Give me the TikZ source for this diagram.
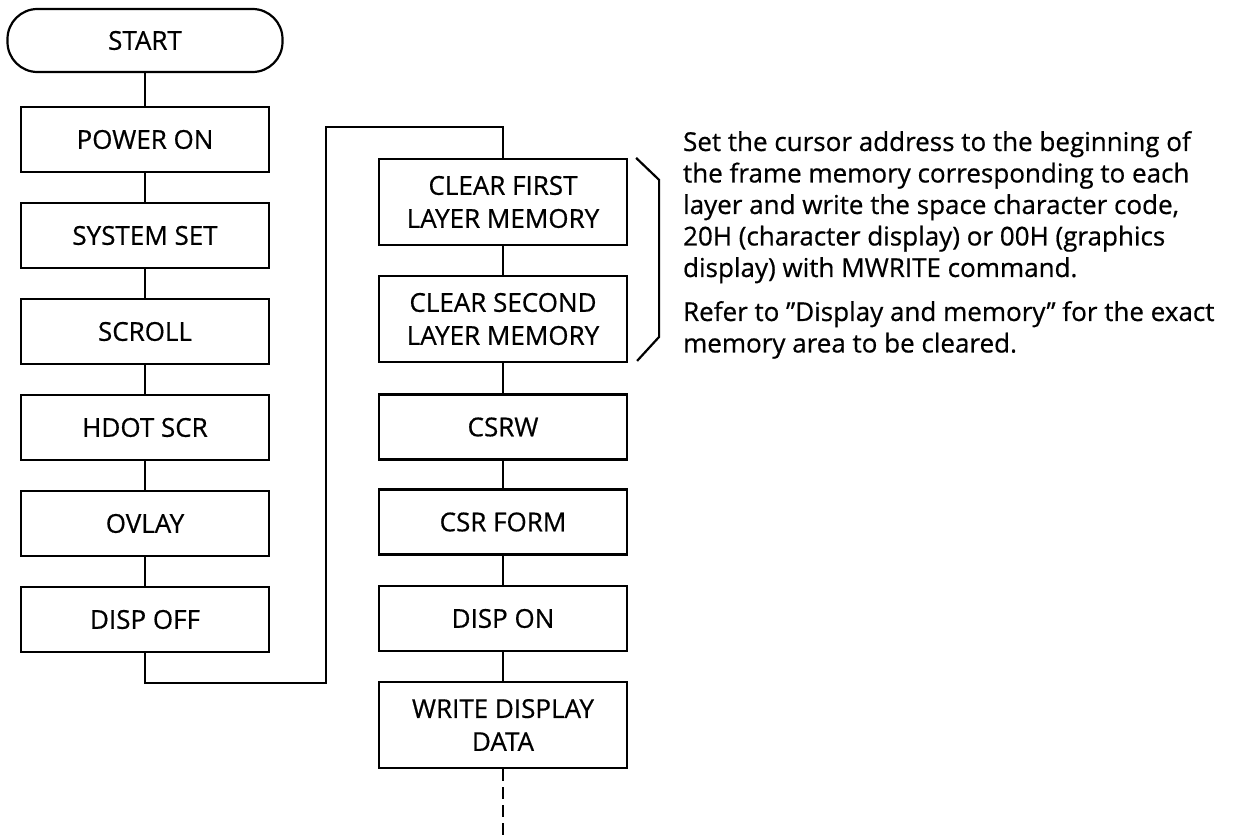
\documentclass[tikz,border=0pt]{standalone}
\usepackage{fontspec}
\setmainfont{Open Sans}[FakeBold=0.6]
\newcommand\flowfont{\fontsize{13}{16.5}\selectfont}
\newcommand\notefont{\fontsize{13}{15.75}\selectfont}
\begin{document}
\begin{tikzpicture}[x=0.5pt,y=-0.5pt,line width=1.1pt,
	stepbox/.style={draw, minimum width=124pt, minimum height=32.5pt, inner sep=0pt, align=center, font=\flowfont},
	tallbox/.style={stepbox, minimum height=43pt},
	termbox/.style={stepbox, minimum width=137.5pt, minimum height=31.5pt, rounded corners=15pt},
	note/.style={anchor=north west, inner sep=0pt, align=left, font=\notefont}]
	\useasboundingbox (0,0) rectangle (1243,835);
	\node[termbox] (start) at (145,40.5) {START};
	% left column
	\foreach \n/\t [count=\k from 0] in {pwr/POWER ON, sys/SYSTEM SET, scr/SCROLL, hdot/HDOT SCR, ovl/OVLAY, doff/DISP OFF}{
		\node[stepbox] (\n) at (145,139.5+96*\k) {\t};
	}
	% right column
	\node[tallbox] (clr1) at (503,202) {CLEAR FIRST\\LAYER MEMORY};
	\node[tallbox] (clr2) at (503,319) {CLEAR SECOND\\LAYER MEMORY};
	\foreach \n/\t/\y in {csrw/CSRW/427, csrf/CSR FORM/522, don/DISP ON/618.5}{
		\node[stepbox] (\n) at (503,\y) {\t};
	}
	\node[tallbox] (wdd) at (503,725) {WRITE DISPLAY\\DATA};
	\foreach \a/\b in {start/pwr, pwr/sys, sys/scr, scr/hdot, hdot/ovl, ovl/doff, clr1/clr2, clr2/csrw, csrw/csrf, csrf/don, don/wdd}{
		\draw (\a.south) -- (\b.north);
	}
	\coordinate (bend) at (326,127);
	\coordinate (tail) at (503,835);
	\draw (doff.south) -- ++(0,30) -| (bend) -| (clr1.north);
	\draw[dash pattern=on 6pt off 3pt] (wdd.south) -- (tail);
	% bracket
	\draw (clr1.north east) ++(8,0) -- ++(23,22) -- ++(0,157) -- ++(-22,24);
	\node[note] (txt1) at (682,130) {Set the cursor address to the beginning of\\the frame memory corresponding to each\\layer and write the space character code,\\20H (character display) or 00H (graphics\\display) with MWRITE command.};
	\node[note] (txt2) at (682,300) {Refer to ”Display and memory” for the exact\\memory area to be cleared.};
\end{tikzpicture}
\end{document}
